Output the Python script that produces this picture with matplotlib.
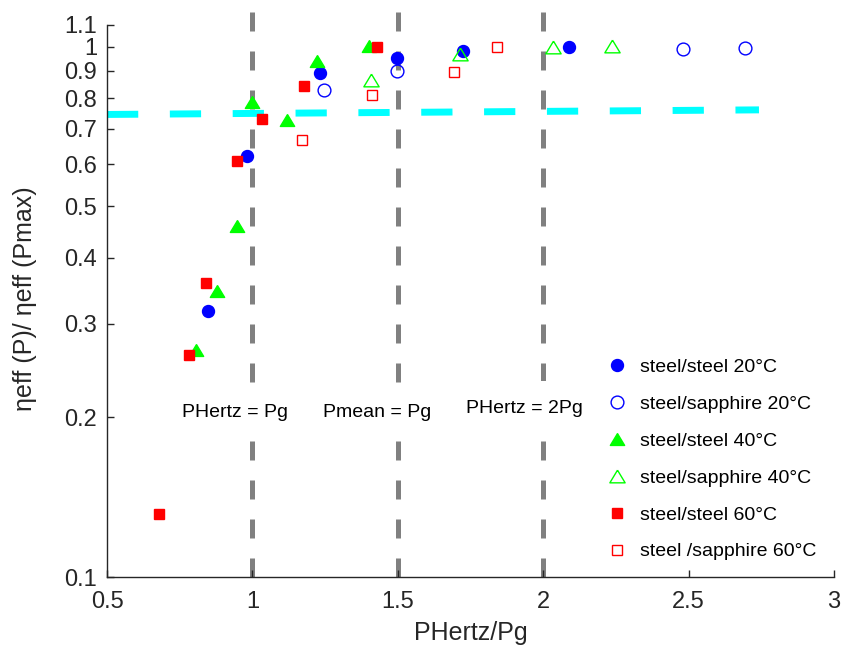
import matplotlib
matplotlib.use("Agg")
import matplotlib.pyplot as plt
import numpy as np

plt.rcParams['font.family'] = ['Liberation Sans', 'DejaVu Sans']

# Data
ss20_x = [0.847, 0.981, 1.232, 1.497, 1.724, 2.089]
ss20_y = [0.317, 0.622, 0.892, 0.952, 0.981, 1.0]
sa20_x = [1.246, 1.497, 2.480, 2.693]
sa20_y = [0.829, 0.899, 0.990, 0.994]
ss40_x = [0.805, 0.877, 0.947, 1.000, 1.120, 1.223, 1.402]
ss40_y = [0.268, 0.346, 0.460, 0.788, 0.727, 0.940, 1.005]
sa40_x = [1.407, 1.715, 2.034, 2.237]
sa40_y = [0.865, 0.969, 1.0, 1.002]
ss60_x = [0.680, 0.781, 0.842, 0.947, 1.032, 1.178, 1.427]
ss60_y = [0.1315, 0.2626, 0.3585, 0.608, 0.730, 0.842, 1.0]
sa60_x = [1.171, 1.410, 1.692, 1.841]
sa60_y = [0.666, 0.811, 0.895, 1.0]

ref_x = [0.5, 2.742]
ref_y = [0.745, 0.760]

vline_x = [1.0, 1.5, 2.0]
vline_top = 1.18
vline_labels = ["PHertz = Pg", "Pmean = Pg", "PHertz = 2Pg"]
vline_label_x = [0.940, 1.4285, 1.934]
vline_label_y = [0.2006, 0.2006, 0.2035]

xticks = [0.5, 1, 1.5, 2, 2.5, 3]
xticklabels = ["0.5", "1", "1.5", "2", "2.5", "3"]
yticks = [0.1, 0.2, 0.3, 0.4, 0.5, 0.6, 0.7, 0.8, 0.9, 1.0, 1.1]
yticklabels = ["0.1", "0.2", "0.3", "0.4", "0.5", "0.6", "0.7", "0.8", "0.9", "1", "1.1"]

W, H = 843, 653
fig = plt.figure(figsize=(W/100, H/100), dpi=100)
ax = fig.add_axes([107/W, 1-577/H, (834-107)/W, (577-24.7)/H])
ax.set_yscale('log')
ax.set_xlim(0.5, 3)
ax.set_ylim(0.1, 1.1)

for xv in vline_x:
    ax.plot([xv, xv], [0.1, vline_top], color='#808080', lw=3.6, ls=(0, (3.8, 4.0)),
            clip_on=False, zorder=1, dash_capstyle='butt')

ax.plot(ref_x, ref_y, color='#00FFFF', lw=5, ls=(0, (4.5, 4.55)), zorder=1,
        dash_capstyle='butt')

tri = [(0, 0.83), (-1, -0.83), (1, -0.83), (0, 0.83)]
ax.plot(ss20_x, ss20_y, 'o', color='#0000FF', ms=8.6, ls='none', label='steel/steel 20°C', zorder=3)
ax.plot(sa20_x, sa20_y, 'o', mfc='none', mec='#0000FF', ms=9.2, mew=1.0, ls='none', label='steel/sapphire 20°C', zorder=3)
ax.plot(ss40_x, ss40_y, marker=tri, color='#00FF00', ms=10.3, ls='none', label='steel/steel 40°C', zorder=3)
ax.plot(sa40_x, sa40_y, marker=tri, mfc='none', mec='#00FF00', ms=11.0, mew=1.0, ls='none', label='steel/sapphire 40°C', zorder=3)
ax.plot(ss60_x, ss60_y, 's', color='#FF0000', ms=7.0, ls='none', label='steel/steel 60°C', zorder=3)
ax.plot(sa60_x, sa60_y, 's', mfc='none', mec='#FF0000', ms=7.6, mew=1.0, ls='none', label='steel /sapphire 60°C', zorder=3)

for lx, ly, t in zip(vline_label_x, vline_label_y, vline_labels):
    ax.text(lx, ly, t, ha='center', va='baseline', fontsize=14, color='black', zorder=2,
            bbox=dict(boxstyle='square,pad=1.0', facecolor='white', edgecolor='none'))

ax.set_xticks(xticks)
ax.set_xticklabels(xticklabels)
ax.set_yticks(yticks)
ax.set_yticklabels(yticklabels)
ax.yaxis.set_minor_locator(matplotlib.ticker.NullLocator())
ax.tick_params(direction='in', length=5, width=1.0, colors='#262626', labelsize=17)
ax.tick_params(axis='x', pad=10)
ax.tick_params(axis='y', pad=7)

for s in ['top', 'right']:
    ax.spines[s].set_visible(False)
for s in ['left', 'bottom']:
    ax.spines[s].set_color('#262626')
    ax.spines[s].set_linewidth(1.0)

ax.set_xlabel('PHertz/Pg', fontsize=18, color='#262626')
ax.xaxis.label.set_va('baseline')
ax.xaxis.set_label_coords(0.5, -(640-577)/(577-24.7))
ax.set_ylabel('ηeff (P)/ ηeff (Pmax)', fontsize=18, color='#262626')
ax.yaxis.label.set_va('center')
ax.yaxis.set_label_coords((25-107)/(834-107), (577-299)/(577-24.7))

leg = ax.legend(loc='upper left', frameon=False, fontsize=14, handletextpad=0.62,
                labelspacing=0.99, handlelength=1.2, borderpad=0, borderaxespad=0,
                bbox_to_anchor=(605/W, 1-358.5/H), bbox_transform=fig.transFigure)

fig.savefig('out.png', dpi=100)
